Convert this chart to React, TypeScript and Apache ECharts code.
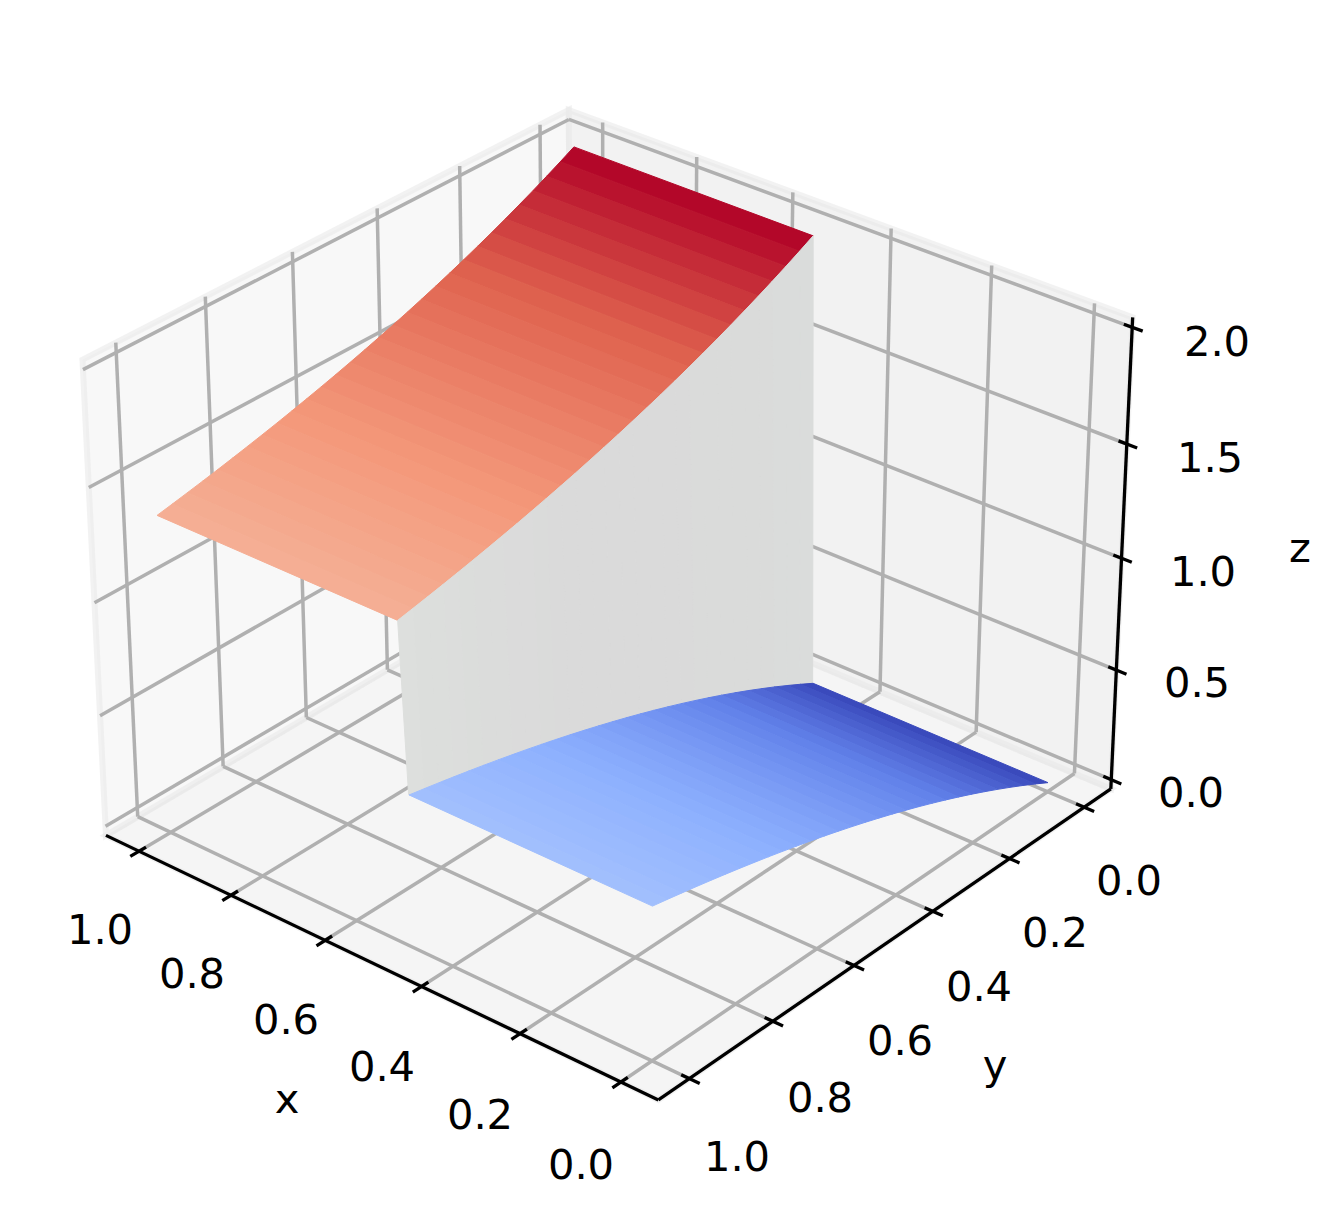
import React, { useEffect, useRef } from "react";
import * as echarts from "echarts";

const W = 1341;
const H = 1218;

// ---------- data ----------
const yGrid = [0, 0.0345, 0.069, 0.1034, 0.1379, 0.1724, 0.2069, 0.2414, 0.2759, 0.3103, 0.3448, 0.3793, 0.4138, 0.4483, 0.4828, 0.5172, 0.5517, 0.5862, 0.6207, 0.6552, 0.6897, 0.7241, 0.7586, 0.7931, 0.8276, 0.8621, 0.8966, 0.931, 0.9655, 1];
const zLower = [0, 0.0339, 0.0667, 0.0983, 0.1288, 0.1584, 0.1869, 0.2145, 0.2411, 0.2668, 0.2917, 0.3157, 0.3389, 0.3613, 0.383, 0.4038, 0.424, 0.4436, 0.4624, 0.4806, 0.4982, 0.5153, 0.5316, 0.5475, 0.5629, 0.5777, 0.5921, 0.6058, 0.6192, 0.6321];
const zUpper = [2, 1.9661, 1.9333, 1.9017, 1.8712, 1.8416, 1.8131, 1.7855, 1.7589, 1.7332, 1.7083, 1.6843, 1.6611, 1.6387, 1.617, 1.5962, 1.576, 1.5564, 1.5376, 1.5194, 1.5018, 1.4847, 1.4684, 1.4525, 1.4371, 1.4223, 1.4079, 1.3942, 1.3808, 1.3679];
const xLowerSheet = [0, 0.484];
const xUpperSheet = [0.5, 1];
const xWallFoot = 0.485;
const xWallHead = 0.5;

const xTicks = [0, 0.2, 0.4, 0.6, 0.8, 1];
const yTicks = [0, 0.2, 0.4, 0.6, 0.8, 1];
const zTicks = [0, 0.5, 1, 1.5, 2];
const xTickLabels = ["0.0", "0.2", "0.4", "0.6", "0.8", "1.0"];
const yTickLabels = ["0.0", "0.2", "0.4", "0.6", "0.8", "1.0"];
const zTickLabels = ["0.0", "0.5", "1.0", "1.5", "2.0"];

const coolwarm = ["rgb(55,70,185)", "rgb(98,130,234)", "rgb(141,176,254)", "rgb(180,205,253)", "rgb(221,221,221)", "rgb(245,196,173)", "rgb(244,152,122)", "rgb(222,96,77)", "rgb(176,0,38)"];
const wallTones = ["rgb(218,220,219)", "rgb(218,219,218)", "rgb(218,218,218)", "rgb(218,218,218)", "rgb(219,220,219)", "rgb(221,223,221)"];

// ---------- axes box limits ----------
const xLo = -0.073, xHi = 1.073, yLo = -0.073, yHi = 1.073, zLo = -0.042, zHi = 2.042;

// ---------- camera: fitted to the grid crossings of the picture ----------
const calib: number[][] = [
  [0, 1, zLo, 652, 1062], [0, 0.8, zLo, 736, 1003], [0, 0.6, zLo, 816, 948], [0, 0.4, zLo, 896, 895], [0, 0.2, zLo, 973, 843], [0, 0, zLo, 1047, 792],
  [1, 1, zLo, 171, 832], [0.8, 1, zLo, 263, 876], [0.6, 1, zLo, 357, 920], [0.4, 1, zLo, 453, 967],
  [xHi, 0, 2, 540, 133], [xHi, 0.2, 2, 460, 175], [xHi, 0.4, 2, 377, 218], [xHi, 0.6, 2, 293, 262], [xHi, 0.8, 2, 206, 307], [xHi, 1, 2, 116, 353],
  [0, yLo, 2, 1095, 313], [0.2, yLo, 2, 992, 276], [0.4, yLo, 2, 891, 238], [1, yLo, 2, 602, 133],
  [xHi, 1, zLo, 138, 817], [xHi, 0.8, zLo, 223, 767], [xHi, 0.6, zLo, 307, 717], [xHi, 0.4, zLo, 387, 670],
  [0, yLo, zLo, 1075, 773], [0.2, yLo, zLo, 976, 732], [0.4, yLo, zLo, 880, 692],
  [xHi, yLo, 2, 569, 120], [xHi, yHi, 2, 83, 369], [xLo, yLo, 2, 1131, 327],
  [xHi, yHi, zLo, 105, 835], [xLo, yHi, zLo, 658, 1100], [xLo, yLo, zLo, 1111, 789],
];

function solveCamera(): number[] {
  const n = 11;
  const A: number[][] = Array.from({ length: n }, () => new Array(n + 1).fill(0));
  const add = (r: number[], b: number) => {
    for (let i = 0; i < n; i++) {
      for (let j = 0; j < n; j++) A[i][j] += r[i] * r[j];
      A[i][n] += r[i] * b;
    }
  };
  calib.forEach(([X, Y, Z, u0, v0]) => {
    const u = u0 / 1000, v = v0 / 1000;
    add([X, Y, Z, 1, 0, 0, 0, 0, -u * X, -u * Y, -u * Z], u);
    add([0, 0, 0, 0, X, Y, Z, 1, -v * X, -v * Y, -v * Z], v);
  });
  for (let c = 0; c < n; c++) {
    let piv = c;
    for (let r = c + 1; r < n; r++) if (Math.abs(A[r][c]) > Math.abs(A[piv][c])) piv = r;
    [A[c], A[piv]] = [A[piv], A[c]];
    for (let r = 0; r < n; r++) {
      if (r === c) continue;
      const f = A[r][c] / A[c][c];
      for (let k = c; k <= n; k++) A[r][k] -= f * A[c][k];
    }
  }
  return A.map((row, i) => row[n] / row[i]);
}

const cam = solveCamera();
function project(x: number, y: number, z: number): number[] {
  const w = cam[8] * x + cam[9] * y + cam[10] * z + 1;
  return [
    (1000 * (cam[0] * x + cam[1] * y + cam[2] * z + cam[3])) / w,
    (1000 * (cam[4] * x + cam[5] * y + cam[6] * z + cam[7])) / w,
  ];
}

const zColor = (z: number) => echarts.color.lerp(Math.min(1, Math.max(0, z / 2)), coolwarm) as string;

// ---------- series data ----------
const PANE_LEFT = "#f8f8f8", PANE_RIGHT = "#f2f2f2", PANE_FLOOR = "#f5f5f5";
const panes: { pts: number[][]; fill: string }[] = [
  { fill: PANE_FLOOR, pts: [[xLo, yLo, zLo], [xHi, yLo, zLo], [xHi, yHi, zLo], [xLo, yHi, zLo]] },
  { fill: PANE_LEFT, pts: [[xHi, yLo, zLo], [xHi, yHi, zLo], [xHi, yHi, zHi], [xHi, yLo, zHi]] },
  { fill: PANE_RIGHT, pts: [[xLo, yLo, zLo], [xHi, yLo, zLo], [xHi, yLo, zHi], [xLo, yLo, zHi]] },
];

const gridSegs: number[][] = [
  ...xTicks.flatMap((v) => [[v, yHi, zLo, v, yLo, zLo], [v, yLo, zLo, v, yLo, zHi]]),
  ...yTicks.flatMap((v) => [[xLo, v, zLo, xHi, v, zLo], [xHi, v, zLo, xHi, v, zHi]]),
  ...zTicks.flatMap((v) => [[xLo, yLo, v, xHi, yLo, v], [xHi, yLo, v, xHi, yHi, v]]),
];
const axisSegs: number[][] = [
  [xHi, yHi, zLo, xLo, yHi, zLo],
  [xLo, yHi, zLo, xLo, yLo, zLo],
  [xLo, yLo, zLo, xLo, yLo, zHi],
];
const tickIn = 0.016, tickOut = 0.02;
const tickSegs: number[][] = [
  ...xTicks.map((v) => [v, yHi - tickIn, zLo, v, yHi + tickOut, zLo]),
  ...yTicks.map((v) => [xLo + tickIn, v, zLo, xLo - tickOut, v, zLo]),
  ...zTicks.map((v) => [xLo + tickIn, yLo, v, xLo - tickOut, yLo, v]),
];

const bands = yGrid.slice(0, -1).map((_, i) => i);
const upperData = bands.map((i) => [xUpperSheet[0], xUpperSheet[1], yGrid[i], yGrid[i + 1], zUpper[i], zUpper[i + 1]]);
const lowerData = bands.map((i) => [xLowerSheet[0], xLowerSheet[1], yGrid[i], yGrid[i + 1], zLower[i], zLower[i + 1]]);
const wallData = bands.map((i) => [yGrid[i], yGrid[i + 1], zLower[i], zLower[i + 1], zUpper[i], zUpper[i + 1]]);

// ---------- tick label centres ----------
const xLabelPos = [[581, 1164], [480, 1114], [382, 1066], [286, 1019], [192, 973], [100, 929]];
const yLabelPos = [[1129, 880], [1055, 932], [979, 986], [900, 1040], [820, 1097], [737, 1156]];
const zLabelPos = [[1191, 792], [1197, 682], [1203, 571], [1210, 457], [1217, 341]];
const nameLabels: [string, number, number][] = [["x", 287, 1098], ["y", 995, 1064], ["z", 1300, 547]];

const FONT = "DejaVu Sans";
const FS = 41.67;

function textEl(text: string, x: number, y: number) {
  return {
    type: "text",
    x,
    y,
    silent: true,
    style: { text, fill: "#000", font: `${FS}px "${FONT}"`, fontSize: FS, fontFamily: FONT, textAlign: "center", textVerticalAlign: "middle", align: "center", verticalAlign: "middle" },
  };
}

function App() {
  const ref = useRef<HTMLDivElement>(null);
  useEffect(() => {
    document.body.style.margin = "0";
    const chart = echarts.init(ref.current!, null, { renderer: "svg" });
    const toPx = (api: any, p: number[]) => api.coord(project(p[0], p[1], p[2]));

    const poly = (api: any, pts: number[][], fill: string, stroke: string, lineWidth: number) => ({
      type: "polygon",
      silent: true,
      shape: { points: pts.map((p) => toPx(api, p)) },
      style: { fill, stroke, lineWidth },
    });
    const lineSeries = (data: number[][], color: string, width: number, z: number) => ({
      type: "custom",
      coordinateSystem: "cartesian2d",
      silent: true,
      clip: false,
      z,
      encode: { x: 0, y: 1 },
      data,
      renderItem: (_: any, api: any) => {
        const a = toPx(api, [api.value(0), api.value(1), api.value(2)]);
        const b = toPx(api, [api.value(3), api.value(4), api.value(5)]);
        return { type: "line", silent: true, shape: { x1: a[0], y1: a[1], x2: b[0], y2: b[1] }, style: { stroke: color, lineWidth: width, lineCap: "butt" } };
      },
    });
    const sheetSeries = (data: number[][], z: number) => ({
      type: "custom",
      coordinateSystem: "cartesian2d",
      silent: true,
      clip: false,
      z,
      encode: { x: 0, y: 2 },
      data,
      renderItem: (_: any, api: any) => {
        const [x0, x1, ya, yb, za, zb] = [0, 1, 2, 3, 4, 5].map((k) => api.value(k));
        const c = zColor((za + zb) / 2);
        return poly(api, [[x0, ya, za], [x1, ya, za], [x1, yb, zb], [x0, yb, zb]], c, c, 1);
      },
    });

    chart.setOption({
      animation: false,
      backgroundColor: "#ffffff",
      grid: { left: 0, right: 0, top: 0, bottom: 0, containLabel: false },
      xAxis: { type: "value", min: 0, max: W, show: false },
      yAxis: { type: "value", min: 0, max: H, inverse: true, show: false },
      tooltip: { show: false },
      series: [
        {
          type: "custom",
          coordinateSystem: "cartesian2d",
          silent: true,
          clip: false,
          z: 1,
          data: panes.map((_, i) => [i, 0]),
          renderItem: (params: any, api: any) => {
            const p = panes[params.dataIndex];
            return poly(api, p.pts, p.fill, "rgba(232,232,232,0.55)", 6);
          },
        },
        lineSeries(gridSegs, "#b0b0b0", 3.5, 2),
        sheetSeries(upperData, 3),
        {
          type: "custom",
          coordinateSystem: "cartesian2d",
          silent: true,
          clip: false,
          z: 4,
          encode: { x: 0, y: 2 },
          data: wallData,
          renderItem: (params: any, api: any) => {
            const [ya, yb, la, lb, ua, ub] = [0, 1, 2, 3, 4, 5].map((k) => api.value(k));
            const c = echarts.color.lerp((ya + yb) / 2, wallTones) as string;
            return poly(api, [[xWallFoot, ya, la], [xWallFoot, yb, lb], [xWallHead, yb, ub], [xWallHead, ya, ua]], c, c, 1);
          },
        },
        sheetSeries(lowerData, 5),
        lineSeries(axisSegs, "#000000", 3.3, 6),
        lineSeries(tickSegs, "#000000", 3.3, 7),
      ],
      graphic: {
        elements: [
          ...xTickLabels.map((t, i) => textEl(t, xLabelPos[i][0], xLabelPos[i][1])),
          ...yTickLabels.map((t, i) => textEl(t, yLabelPos[i][0], yLabelPos[i][1])),
          ...zTickLabels.map((t, i) => textEl(t, zLabelPos[i][0], zLabelPos[i][1])),
          ...nameLabels.map(([t, x, y]) => textEl(t, x, y)),
        ],
      },
    });
    return () => chart.dispose();
  }, []);
  return <div ref={ref} style={{ position: "absolute", left: 0, top: 0, width: W, height: H }} />;
}

export default App;
